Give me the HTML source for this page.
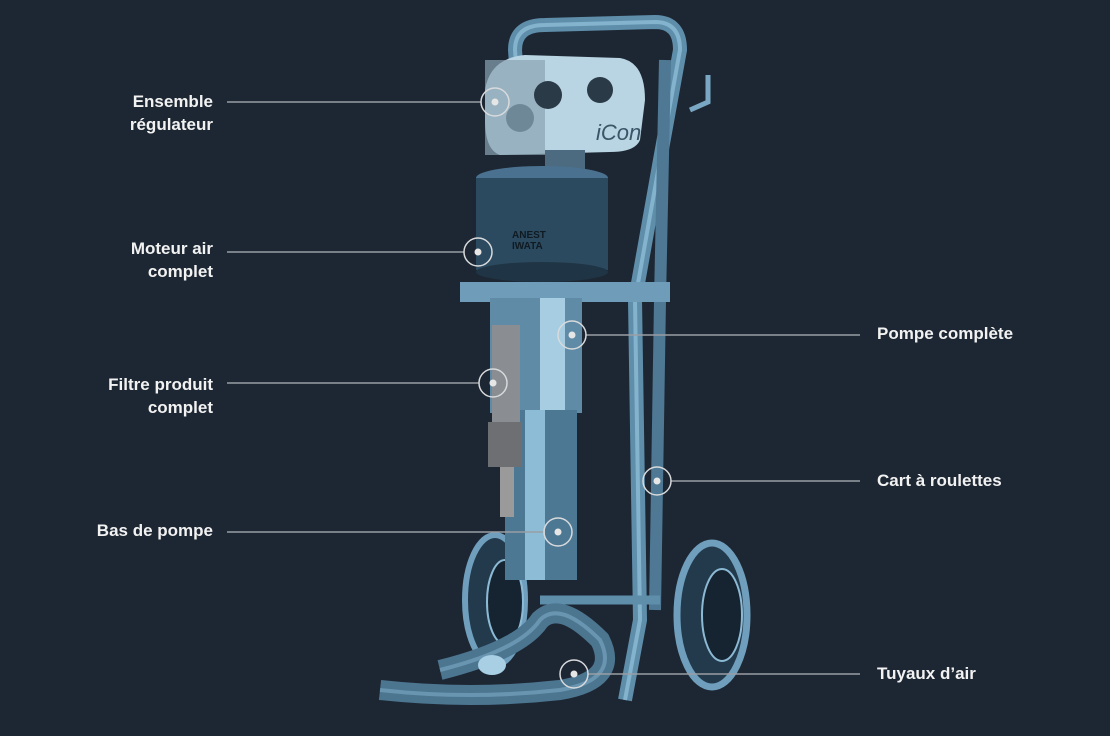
<!DOCTYPE html>
<html><head><meta charset="utf-8"><style>
html,body{margin:0;padding:0;background:#1d2733;}
body{width:1110px;height:736px;overflow:hidden;position:relative;font-family:"Liberation Sans",sans-serif;}
.l{position:absolute;color:#f2f2f2;font-weight:bold;font-size:17px;line-height:23px;}
.r{text-align:right;right:897px;}
</style></head><body>
<svg width="1110" height="736" style="position:absolute;left:0;top:0">
<defs>
<linearGradient id="tube" x1="0" x2="1"><stop offset="0" stop-color="#2e4a60"/><stop offset="0.5" stop-color="#8fc3e0"/><stop offset="1" stop-color="#2e4a60"/></linearGradient>
</defs>
<!-- cart frame -->
<path d="M520 120 L515 50 Q515 25 545 25 L655 22 Q680 22 680 50 L660 160 L635 300 L640 620 L625 700" fill="none" stroke="#5f8eab" stroke-width="14"/>
<path d="M520 120 L515 50 Q515 25 545 25 L655 22 Q680 22 680 50 L660 160 L635 300 L640 620 L625 700" fill="none" stroke="#9ccbe6" stroke-width="4" opacity="0.6"/>
<path d="M665 60 L660 300 L655 610" fill="none" stroke="#4e7893" stroke-width="12"/>
<path d="M690 110 L708 102 L708 75" fill="none" stroke="#7aa8c4" stroke-width="5"/>
<path d="M540 600 L660 600" stroke="#5f8eab" stroke-width="9"/>
<!-- wheels -->
<ellipse cx="495" cy="600" rx="30" ry="65" fill="#223a4c" stroke="#6f9fbd" stroke-width="6"/>
<ellipse cx="505" cy="602" rx="18" ry="42" fill="#152430" stroke="#8cb9d4" stroke-width="2"/>
<ellipse cx="712" cy="615" rx="35" ry="72" fill="#223a4c" stroke="#6f9fbd" stroke-width="7"/>
<ellipse cx="722" cy="615" rx="20" ry="46" fill="#152430" stroke="#8cb9d4" stroke-width="2"/>
<!-- hoses -->
<path d="M440 670 Q520 650 540 620 Q560 600 600 640 Q620 680 560 690 Q470 700 380 690" fill="none" stroke="#4c7590" stroke-width="20"/>
<path d="M440 670 Q520 650 540 620 Q560 600 600 640 Q620 680 560 690 Q470 700 380 690" fill="none" stroke="#86b6d2" stroke-width="4" opacity="0.5"/>
<ellipse cx="492" cy="665" rx="14" ry="10" fill="#a8cfe4"/>
<!-- regulator plate -->
<path d="M485 90 Q490 58 525 55 L620 58 Q645 62 645 100 L640 140 Q635 152 610 152 L500 155 Q485 150 485 120 Z" fill="#b9d4e2"/>
<rect x="485" y="60" width="60" height="95" fill="#8aa4b4" opacity="0.7"/>
<circle cx="520" cy="118" r="14" fill="#6f8898"/>
<circle cx="548" cy="95" r="14" fill="#2a3a46"/>
<circle cx="600" cy="90" r="13" fill="#2a3a46"/>
<text x="596" y="140" font-size="22" font-style="italic" fill="#3a5566" font-family="Liberation Sans">iCon</text>
<!-- motor -->
<rect x="545" y="150" width="40" height="25" fill="#4c6a80"/>
<ellipse cx="542" cy="178" rx="66" ry="12" fill="#4a7290"/>
<rect x="476" y="178" width="132" height="92" fill="#2c4a5f"/>
<ellipse cx="542" cy="272" rx="66" ry="10" fill="#1f3444"/>
<text x="512" y="238" font-size="10" font-weight="bold" fill="#0f1a22">ANEST</text>
<text x="512" y="249" font-size="10" font-weight="bold" fill="#0f1a22">IWATA</text>
<!-- mount plate -->
<rect x="460" y="282" width="210" height="20" fill="#6f9cb8"/>
<!-- pump body -->
<rect x="490" y="298" width="92" height="115" fill="#5f8ba6"/>
<rect x="540" y="298" width="25" height="115" fill="#a6cde2"/>
<rect x="505" y="410" width="72" height="170" fill="#4d7893"/>
<rect x="525" y="410" width="20" height="170" fill="#8cbcd6"/>
<!-- filter -->
<rect x="492" y="325" width="28" height="100" fill="#8a8e92"/>
<rect x="488" y="422" width="34" height="45" fill="#6d6f72"/>
<rect x="500" y="467" width="14" height="50" fill="#9a9a9a"/>
<!-- callout lines -->
<g stroke="#9a9ea4" stroke-width="1.5" fill="none">
<line x1="227" y1="102" x2="481" y2="102"/>
<line x1="227" y1="252" x2="464" y2="252"/>
<line x1="227" y1="383" x2="479" y2="383"/>
<line x1="227" y1="532" x2="544" y2="532"/>
<line x1="586" y1="335" x2="860" y2="335"/>
<line x1="671" y1="481" x2="860" y2="481"/>
<line x1="588" y1="674" x2="860" y2="674"/>
</g>
<g stroke="#d8dadc" stroke-width="1.5" fill="none">
<circle cx="495" cy="102" r="14"/><circle cx="478" cy="252" r="14"/>
<circle cx="493" cy="383" r="14"/><circle cx="558" cy="532" r="14"/>
<circle cx="572" cy="335" r="14"/><circle cx="657" cy="481" r="14"/>
<circle cx="574" cy="674" r="14"/>
</g>
<g fill="#e6e6e6">
<circle cx="495" cy="102" r="3.5"/><circle cx="478" cy="252" r="3.5"/>
<circle cx="493" cy="383" r="3.5"/><circle cx="558" cy="532" r="3.5"/>
<circle cx="572" cy="335" r="3.5"/><circle cx="657" cy="481" r="3.5"/>
<circle cx="574" cy="674" r="3.5"/>
</g>
</svg>
<div class="l r" style="top:90px">Ensemble<br>régulateur</div>
<div class="l r" style="top:237px">Moteur air<br>complet</div>
<div class="l r" style="top:373px">Filtre produit<br>complet</div>
<div class="l r" style="top:519px">Bas de pompe</div>
<div class="l" style="left:877px;top:322px">Pompe complète</div>
<div class="l" style="left:877px;top:469px">Cart à roulettes</div>
<div class="l" style="left:877px;top:662px">Tuyaux d’air</div>
</body></html>
